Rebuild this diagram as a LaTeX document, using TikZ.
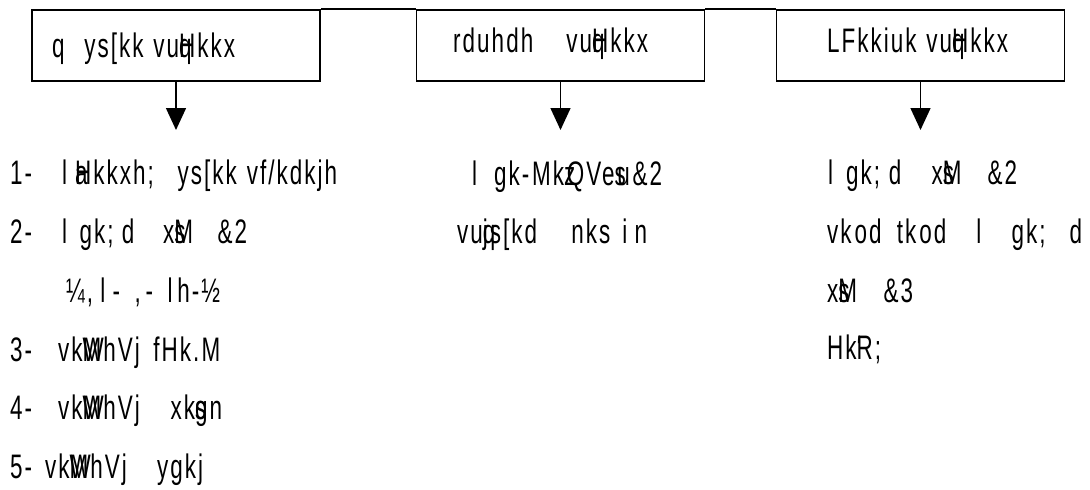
\documentclass[tikz,border=0pt]{standalone}
\usepackage{fontspec}
\setmainfont{Liberation Sans}[FakeStretch=0.66,LetterSpace=6]
\usetikzlibrary{arrows.meta}
\newcommand{\gp}[1]{\hspace{#1pt plus #1fil minus #1pt}}
\newcommand{\fitline}[2]{\makebox[#1pt][s]{#2}}
\tikzset{
  boxnode/.style={draw, line width=1.8pt, minimum width=288pt, minimum height=71pt, inner sep=0pt},
  joinline/.style={line width=1.8pt},
  downarrow/.style={line width=1.5pt, -{Triangle[width=20pt,length=22pt]}},
  boxtext/.style={anchor=base west, inner sep=0pt, font=\fontsize{34}{38}\selectfont},
  itemtext/.style={anchor=base west, inner sep=0pt, font=\fontsize{34}{38}\selectfont},
}
\begin{document}
\begin{tikzpicture}[x=1pt,y=-1pt]
\useasboundingbox (0,0) rectangle (1090,490);
\node[boxnode] (b1) at (176,45.5) {};
\node[boxnode] (b2) at (560.5,45.5) {};
\node[boxnode] (b3) at (920.5,45.5) {};
\draw[joinline] (b1.north east) -- (b2.north west);
\draw[joinline] (b2.north east) -- (b3.north west);
\node[boxtext] (t1) at (52,57) {\fitline{183}{q\gp{20}ys[kk\gp{10}vu\rlap{q}Hkkx}};
\node[boxtext] (t2) at (453,52) {\fitline{195}{rduhdh\gp{10}vu\rlap{q}Hkkx}};
\node[boxtext] (t3) at (827,52) {\fitline{181}{LFkki\gp{2}uk\gp{10}vu\rlap{q}Hkkx}};
\coordinate (a1) at (176,130);
\coordinate (a2) at (560.5,130);
\coordinate (a3) at (920.5,130);
\draw[downarrow] (b1.south) -- (a1);
\draw[downarrow] (b2.south) -- (a2);
\draw[downarrow] (b3.south) -- (a3);
% left column
\node[itemtext] (n1) at (10,184) {1-};
\node[itemtext] (l1) at (62,184) {\fitline{275}{l\gp{8}\rlap{a}Hkkxh;\gp{24}ys[kk\gp{10}vf/kdkjh}};
\node[itemtext] (n2) at (10,243) {2-};
\node[itemtext] (l2) at (62,243) {\fitline{185}{l\gp{6}gk;\gp{4}d\gp{14}x\rlap{s}M\gp{12}\&2}};
\node[itemtext] (l2b) at (66,302) {\fitline{154}{¼,\gp{6}l\gp{6}-\gp{12},\gp{4}-\gp{12}l\gp{4}h-½}};
\node[itemtext] (n3) at (10,361) {3-};
\node[itemtext] (l3) at (58,361) {\fitline{162}{vk\rlap{W}MhVj\gp{18}fHk.\gp{3}M}};
\node[itemtext] (n4) at (10,419) {4-};
\node[itemtext] (l4) at (58,419) {\fitline{164}{vk\rlap{W}MhVj\gp{18}xk\rlap{s}gn}};
\node[itemtext] (n5) at (10,478) {5-};
\node[itemtext] (l5) at (45,478) {\fitline{158}{vk\rlap{W}MhVj\gp{18}ygkj}};
% middle column
\node[itemtext] (m1) at (472,185) {\fitline{190}{l\gp{6}gk-\gp{1}Mk\rlap{z}\gp{1}QVe\rlap{s}\gp{1}u\gp{1}\&2}};
\node[itemtext] (m2) at (457,243) {\fitline{190}{vu\rlap{q}js[kd\gp{14}nks\gp{5}i\gp{3}n}};
% right column
\node[itemtext] (r1) at (828,184) {\fitline{189}{l\gp{6}gk;\gp{4}d\gp{14}x\rlap{s}M\gp{12}\&2}};
\node[itemtext] (r2) at (827,243) {\fitline{255}{vk\gp{1}od\gp{5}tk\gp{1}od\gp{10}l\gp{10}gk;\gp{8}d}};
\node[itemtext] (r3) at (827,302) {\fitline{86}{x\rlap{s}M\gp{12}\&3}};
\node[itemtext] (r4) at (827,359) {Hk\rlap{`}R;};
\end{tikzpicture}
\end{document}
